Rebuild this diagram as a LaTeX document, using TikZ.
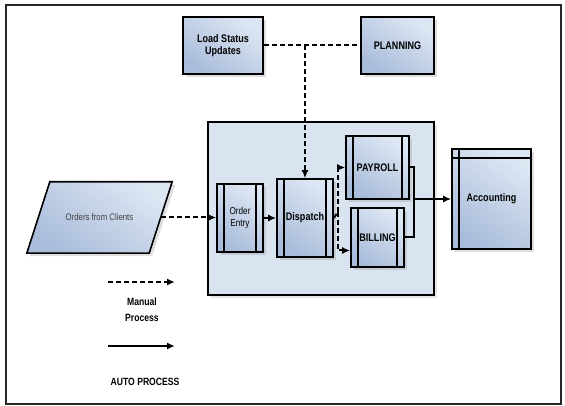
\documentclass[tikz,border=0pt]{standalone}
\usepackage{fontspec}
\setmainfont{Liberation Sans}[FakeStretch=0.82]
\usepackage{xcolor}
\usepackage{tikz}
\usetikzlibrary{positioning,arrows.meta,shadows}

\definecolor{boxlight}{HTML}{DDE6F3}
\definecolor{boxdark}{HTML}{A9BCDA}
\definecolor{sysfill}{HTML}{DAE3F0}

\begin{document}
\begin{tikzpicture}[
    x=1pt, y=-1pt,
    >={Latex[length=8pt,width=7pt]},
    boxfont/.style={font=\fontsize{11}{12}\selectfont\bfseries},
    shade box/.style={top color=boxlight, bottom color=boxdark, shading angle=-35,
        drop shadow={shadow xshift=3pt, shadow yshift=-3pt, opacity=0.25, fill=gray}},
    box/.style={draw, line width=1.6pt, inner sep=0pt, align=center, shade box, boxfont},
    proc/.style={box, path picture={
        \draw[line width=1.3pt] ([xshift=7pt]path picture bounding box.south west)
            -- ([xshift=7pt]path picture bounding box.north west);
        \draw[line width=1.3pt] ([xshift=-7pt]path picture bounding box.south east)
            -- ([xshift=-7pt]path picture bounding box.north east);
    }},
    store/.style={box, path picture={
        \draw[line width=1.3pt] ([xshift=7pt]path picture bounding box.south west)
            -- ([xshift=7pt]path picture bounding box.north west);
        \draw[line width=1.3pt] ([yshift=-9pt]path picture bounding box.north west)
            -- ([yshift=-9pt]path picture bounding box.north east);
    }},
    manualline/.style={line width=2pt, dash pattern=on 5pt off 3pt},
    autoline/.style={line width=2pt}
]
\useasboundingbox (0,0) rectangle (565,406);
\draw[line width=1.8pt, black!85] (6,5) rectangle (561,404);

% system block behind the processes
\node[draw, line width=1.6pt, fill=sysfill, minimum width=226, minimum height=173,
      drop shadow={shadow xshift=3pt, shadow yshift=-3pt, opacity=0.2, fill=gray}]
    (sys) at (321,208.5) {};

% top boxes
\node[box, minimum width=80, minimum height=57] (load) at (223,45.5) {Load Status\\Updates};
\node[box, minimum width=73, minimum height=57] (plan) at (397.5,45.5) {PLANNING};

% input (slanted data box)
\node[minimum width=145, minimum height=71, inner sep=0pt] (orders) at (99.5,217.5) {};
\draw[line width=1.6pt, shade box]
    ([xshift=23pt]orders.north west) -- (orders.north east)
    -- ([xshift=-23pt]orders.south east) -- (orders.south west) -- cycle;
\node[font=\fontsize{9.5}{10}\selectfont, text=black!75] (orderstext) at (orders.center) {Orders from Clients};

% processes
\node[proc, minimum width=46, minimum height=68, font=\fontsize{10}{12}\selectfont] (entry) at (240,218) {Order\\Entry};
\node[proc, minimum width=56, minimum height=78] (disp) at (305,218) {Dispatch};
\node[proc, minimum width=63, minimum height=63] (payroll) at (377.5,167.5) {PAYROLL};
\node[proc, minimum width=53, minimum height=59] (billing) at (377.5,237.5) {BILLING};
\node[store, minimum width=79, minimum height=100] (acct) at (491.5,199) {Accounting};

% manual links
\draw[manualline] (load.east) -- (plan.west);
\draw[manualline,->] (disp.north |- load.east) -- (disp.north);
\draw[manualline,->] ([xshift=-11.5pt]orders.east) -- (orders.east -| entry.west);
\draw[manualline,->] (entry.east) -- (entry.east -| disp.west);
\draw[manualline] (disp.east) -- ++(4,-6) coordinate (split);
\draw[manualline,->] (split) |- (payroll.west);
\draw[manualline,->] (split) |- ([yshift=-13pt]billing.west);

% automatic links
\draw[autoline] (payroll.east) -- ++(4,0) coordinate (join) |- (billing.east);
\draw[autoline,->] (join |- acct.west) -- (acct.west);

% legend
\coordinate (m1) at (108,282);
\coordinate (m2) at (175,282);
\coordinate (a1) at (108,346);
\coordinate (a2) at (175,346);
\draw[manualline,->] (m1) -- (m2);
\node[font=\fontsize{10.5}{16}\selectfont\bfseries, align=center] (mlabel) at (142,310) {Manual\\Process};
\draw[autoline,->] (a1) -- (a2);
\node[font=\fontsize{10.5}{12}\selectfont\bfseries] (alabel) at (145,382) {AUTO PROCESS};
\end{tikzpicture}
\end{document}
